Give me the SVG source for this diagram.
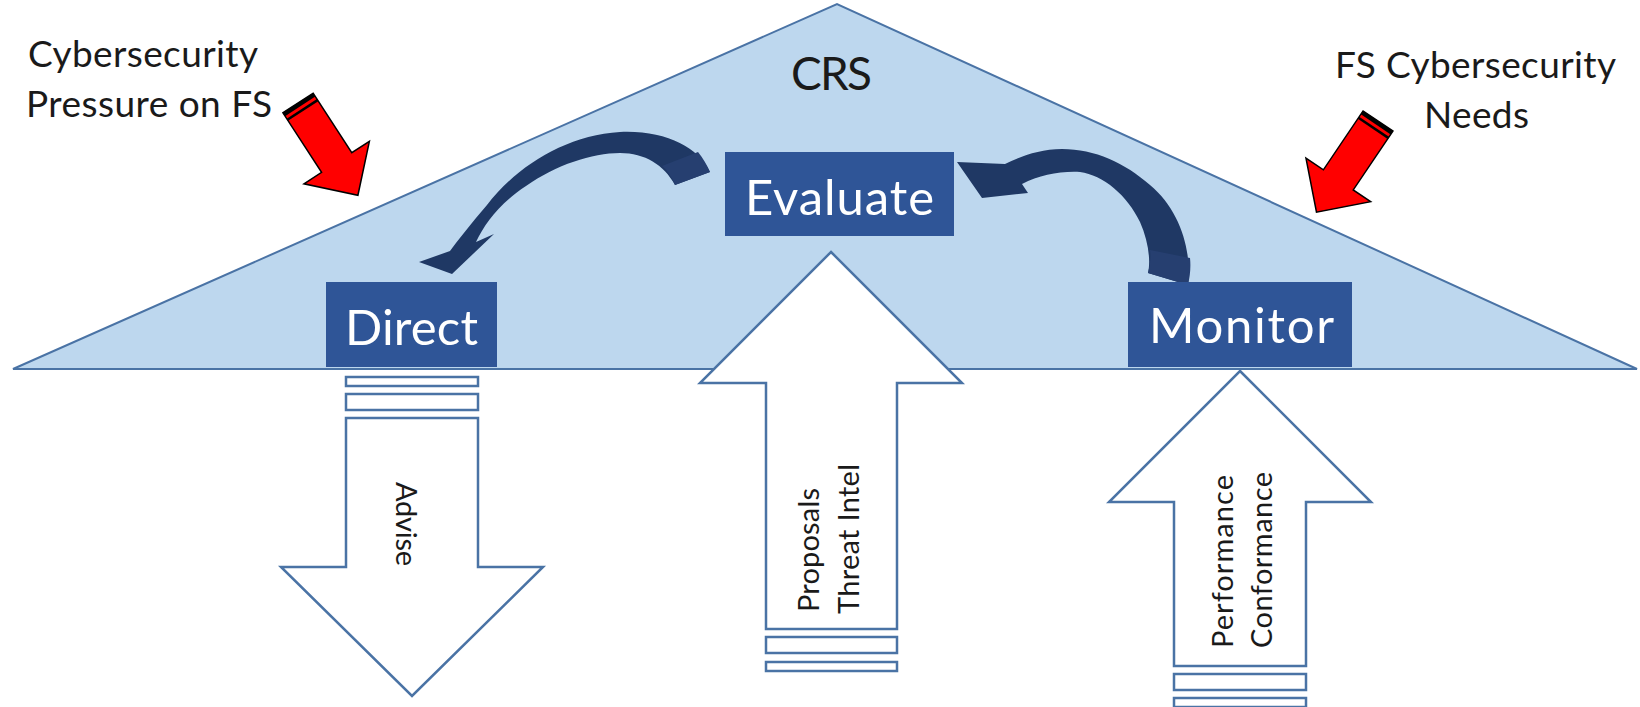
<svg xmlns="http://www.w3.org/2000/svg" width="1640" height="707" viewBox="0 0 1640 707">
<defs>
<style>
.tri{fill:#BDD7EE;stroke:#4A73A5;stroke-width:2}
.box{fill:#2F5597}
.boxt{font-family:Lato,"Open Sans",sans-serif;font-size:49px;fill:#FFFFFF}
.lbl{font-family:Lato,"Open Sans",sans-serif;font-size:37px;fill:#1A1A1A}
.crs{font-family:Lato,"Open Sans",sans-serif;font-size:46px;fill:#1A1A1A}
.sm{font-family:Lato,"Open Sans",sans-serif;font-size:29px;fill:#1A1A1A}
.wa{fill:#FFFFFF;stroke:#4A73A5;stroke-width:2.5;stroke-linejoin:miter}
.curve{fill:#1F3864}
.face{fill:#263F70}
.red{fill:#FF0000;stroke:#000000;stroke-width:1.5;stroke-linejoin:miter}
</style>
<g id="redArrow">
<polygon class="red" points="0,-18 71,-18 71,-39 110,0 71,39 71,18 0,18"/>
<rect x="0" y="-18" width="4" height="36" fill="#000000"/>
<rect x="7" y="-18" width="2.5" height="36" fill="#000000"/>
</g>
</defs>
<rect width="1640" height="707" fill="#FFFFFF"/>

<g id="crs">
<polygon class="tri" points="13,369 837,4 1637,369"/>
<text class="crs" x="791" y="90" textLength="81">CRS</text>
</g>

<g id="connectors">
<g id="curve-evaluate-direct">
<path class="curve" d="M710,172 C698,147 665,130 620,132 C565,135 515,168 487,205 C470,225 458,240 450,251 L419,262 L452,274 L494,234 L476,242 C485,223 500,203 526,186 C556,165 592,153 620,153 C645,153 664,165 675,185 Z"/>
<path class="face" d="M710,172 L675,185 C672,178 668,171 662,166 L698,152 C703,158 707,165 710,172 Z"/>
</g>
<g id="curve-monitor-evaluate">
<path class="curve" d="M1188,285 C1192,250 1180,210 1150,185 C1125,163 1095,149 1062,149 C1040,149 1022,156 1005,164 L957,162 L982,198 L1028,193 L1022,184 C1040,175 1060,171 1080,172 C1103,175 1127,195 1140,222 C1148,240 1151,260 1148,273 Z"/>
<path class="face" d="M1188,285 L1148,273 C1150,265 1151,258 1150,250 L1190,258 C1191,267 1190,276 1188,285 Z"/>
</g>
<g id="advise-arrow">
<rect class="wa" x="346" y="377" width="132" height="9"/>
<rect class="wa" x="346" y="394" width="132" height="16"/>
<polygon class="wa" points="346,418 478,418 478,567 543,567 412,696 281,567 346,567"/>
<text class="sm" transform="translate(396,482) rotate(90)" textLength="84">Advise</text>
</g>
<g id="proposals-arrow">
<polygon class="wa" points="831,252 962,383 897,383 897,629 766,629 766,383 700,383"/>
<rect class="wa" x="766" y="637" width="131" height="16"/>
<rect class="wa" x="766" y="662" width="131" height="9"/>
<text class="sm" transform="translate(819,612) rotate(-90)" textLength="124">Proposals</text>
<text class="sm" transform="translate(859,614) rotate(-90)" textLength="150">Threat Intel</text>
</g>
<g id="performance-arrow">
<polygon class="wa" points="1240,371 1371,502 1306,502 1306,666 1174,666 1174,502 1109,502"/>
<rect class="wa" x="1174" y="674" width="132" height="16"/>
<rect class="wa" x="1174" y="698" width="132" height="9"/>
<text class="sm" transform="translate(1233,648) rotate(-90)" textLength="173">Performance</text>
<text class="sm" transform="translate(1272,648) rotate(-90)" textLength="176">Conformance</text>
</g>
<g id="pressure-arrow">
<use href="#redArrow" transform="translate(298,103) rotate(57)"/>
</g>
<g id="needs-arrow">
<use href="#redArrow" transform="translate(1378,121) rotate(124)"/>
</g>
</g>

<g id="evaluate">
<rect class="box" x="725" y="152" width="229" height="84"/>
<text class="boxt" x="745" y="215" textLength="189">Evaluate</text>
</g>
<g id="direct">
<rect class="box" x="326" y="282" width="171" height="85"/>
<text class="boxt" x="345" y="345" textLength="133">Direct</text>
</g>
<g id="monitor">
<rect class="box" x="1128" y="282" width="224" height="85"/>
<text class="boxt" x="1149" y="343" textLength="185">Monitor</text>
</g>

<g id="label-pressure">
<text class="lbl" x="28" y="67" textLength="230">Cybersecurity</text>
<text class="lbl" x="26" y="117" textLength="246">Pressure on FS</text>
</g>
<g id="label-needs">
<text class="lbl" x="1335" y="78" textLength="281">FS Cybersecurity</text>
<text class="lbl" x="1424" y="128" textLength="105">Needs</text>
</g>
</svg>
